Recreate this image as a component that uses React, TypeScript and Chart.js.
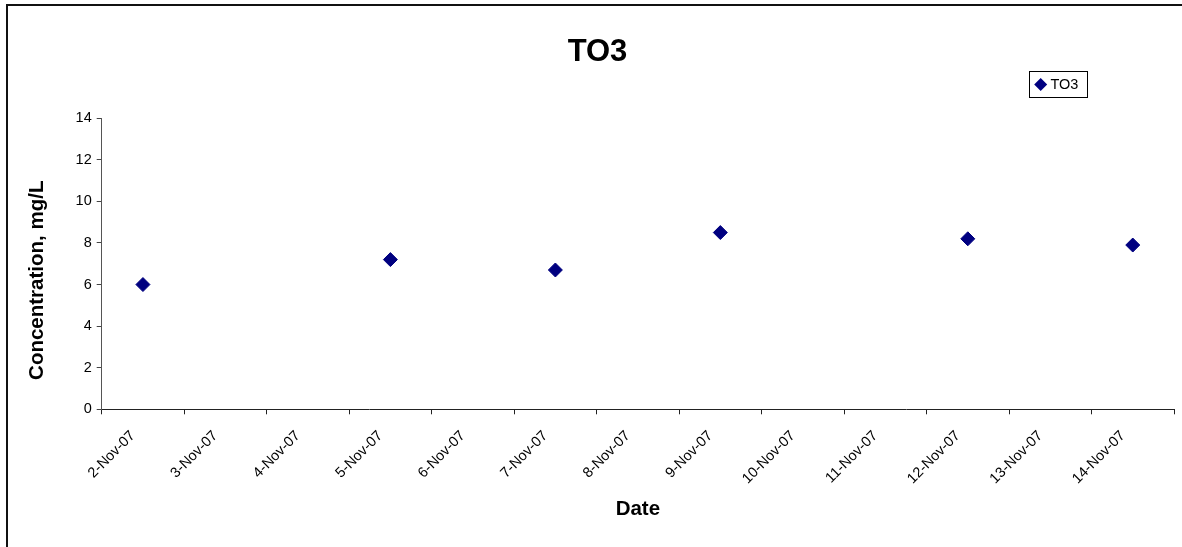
import React, { useEffect, useRef } from 'react';
import { Chart, registerables } from 'chart.js';

Chart.register(...registerables);

// Category axis: every calendar day in the sampling window
const dateLabels = [
  '2-Nov-07', '3-Nov-07', '4-Nov-07', '5-Nov-07', '6-Nov-07', '7-Nov-07', '8-Nov-07',
  '9-Nov-07', '10-Nov-07', '11-Nov-07', '12-Nov-07', '13-Nov-07', '14-Nov-07',
];

// Days on which TO3 was sampled, and the measured concentrations (mg/L)
const sampleDates = ['2-Nov-07', '5-Nov-07', '7-Nov-07', '9-Nov-07', '12-Nov-07', '14-Nov-07'];
const to3Values = [6.0, 7.2, 6.7, 8.5, 8.2, 7.9];

// Value axis range
const yMin = 0;
const yMax = 14;
const yStep = 2;

const seriesName = 'TO3';
const chartTitle = 'TO3';
const xAxisTitle = 'Date';
const yAxisTitle = 'Concentration, mg/L';

const W = 1182;
const H = 547;
const FONT = "'Liberation Sans', Arial, Helvetica, sans-serif";
const MARKER = '#000080';

// Draws the rotated value-axis title and the boxed legend
const decorations = {
  id: 'decorations',
  afterDraw(chart: any) {
    const ctx = chart.ctx as CanvasRenderingContext2D;
    const area = chart.chartArea;

    ctx.save();
    ctx.fillStyle = '#000';
    ctx.font = `bold 20.5px ${FONT}`;
    ctx.textAlign = 'center';
    ctx.textBaseline = 'middle';
    ctx.translate(37.5, (area.top + area.bottom) / 2 + 16.5);
    ctx.rotate(-Math.PI / 2);
    ctx.fillText(yAxisTitle, 0, 0);
    ctx.restore();

    const ds = chart.data.datasets[0];
    const bx = 1029.5;
    const by = 71.5;
    const bw = 58;
    const bh = 26;
    ctx.save();
    ctx.fillStyle = '#fff';
    ctx.fillRect(bx, by, bw, bh);
    ctx.strokeStyle = '#000';
    ctx.lineWidth = 1;
    ctx.strokeRect(bx, by, bw, bh);
    const cx = bx + 11.2;
    const cy = by + bh / 2;
    const r = 6.5;
    ctx.beginPath();
    ctx.moveTo(cx - r, cy);
    ctx.lineTo(cx, cy - r);
    ctx.lineTo(cx + r, cy);
    ctx.lineTo(cx, cy + r);
    ctx.closePath();
    ctx.fillStyle = ds.backgroundColor;
    ctx.fill();
    ctx.fillStyle = '#000';
    ctx.font = `14.5px ${FONT}`;
    ctx.textAlign = 'left';
    ctx.textBaseline = 'middle';
    ctx.fillText(ds.label, bx + 21, cy + 0.5);
    ctx.restore();
  },
};

export default function App() {
  const canvasRef = useRef<HTMLCanvasElement | null>(null);

  useEffect(() => {
    const canvas = canvasRef.current;
    if (!canvas) return;

    const points = sampleDates.map((d, i) => ({ x: d, y: to3Values[i] }));

    const chart = new Chart(canvas, {
      type: 'line',
      data: {
        labels: dateLabels,
        datasets: [
          {
            label: seriesName,
            data: points as any,
            showLine: false,
            pointStyle: 'rectRot',
            pointRadius: 7,
            pointHoverRadius: 7,
            pointBorderWidth: 1,
            backgroundColor: MARKER,
            borderColor: MARKER,
          },
        ],
      },
      options: {
        animation: false,
        responsive: false,
        devicePixelRatio: 1,
        events: [],
        layout: { padding: { left: 19, right: 6, top: 0, bottom: 0 } },
        plugins: {
          legend: { display: false },
          tooltip: { enabled: false },
          title: {
            display: true,
            text: chartTitle,
            color: '#000',
            font: { family: FONT, size: 31, weight: 'bold', lineHeight: 1.2 },
            padding: { top: 33.4, bottom: 47.6 },
          },
        },
        scales: {
          x: {
            type: 'category',
            offset: true,
            grid: {
              offset: true,
              drawOnChartArea: false,
              drawTicks: true,
              tickLength: 5,
              tickColor: '#222',
            },
            border: { display: true, color: '#222', width: 1 },
            ticks: {
              autoSkip: false,
              minRotation: 45,
              maxRotation: 45,
              labelOffset: -10,
              padding: 13,
              color: '#000',
              font: { family: FONT, size: 14.5 },
            },
            title: {
              display: true,
              text: xAxisTitle,
              color: '#000',
              font: { family: FONT, size: 20.5, weight: 'bold', lineHeight: 1.2 },
              padding: { top: 0, bottom: 25.7 },
            },
            afterFit: (s: any) => {
              s.height = H - 409.3;
            },
          },
          y: {
            type: 'linear',
            min: yMin,
            max: yMax,
            grid: {
              drawOnChartArea: false,
              drawTicks: true,
              tickLength: 5,
              tickColor: '#444',
            },
            border: { display: true, color: '#555', width: 1 },
            ticks: {
              stepSize: yStep,
              padding: 5,
              color: '#000',
              font: { family: FONT, size: 14.5 },
            },
            afterFit: (s: any) => {
              s.width = 101.7 - 19;
            },
          },
        },
      },
      plugins: [decorations],
    });

    return () => {
      chart.destroy();
    };
  }, []);

  return (
    <div
      style={{
        position: 'absolute',
        left: 0,
        top: 0,
        width: W,
        height: H,
        overflow: 'hidden',
        background: '#fff',
      }}
    >
      <div
        style={{
          position: 'absolute',
          left: 6,
          top: 4,
          width: W + 100,
          height: H + 100,
          borderTop: '2px solid #111',
          borderLeft: '2px solid #111',
        }}
      />
      <canvas
        ref={canvasRef}
        width={W}
        height={H}
        style={{ position: 'absolute', left: 0, top: 0, width: W, height: H }}
      />
    </div>
  );
}
